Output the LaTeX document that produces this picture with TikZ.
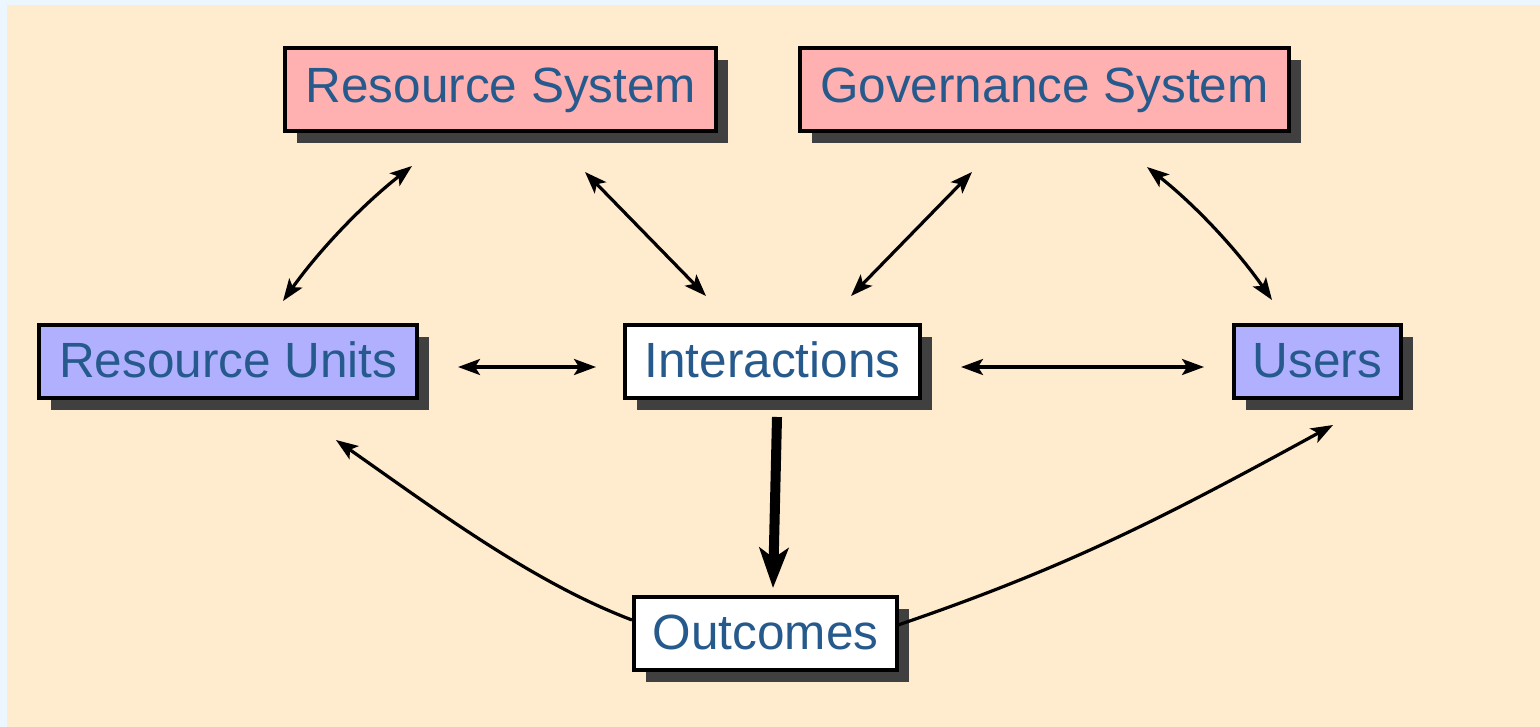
\documentclass[tikz,border=0pt]{standalone}
\usepackage{fontspec}
\setmainfont{Liberation Sans}
\usetikzlibrary{arrows.meta,shadows}
\definecolor{bg}{RGB}{255,235,205}
\definecolor{edgeblue}{RGB}{236,246,255}
\definecolor{pinkfill}{RGB}{255,176,176}
\definecolor{bluefill}{RGB}{176,176,255}
\definecolor{shade}{RGB}{64,64,64}
\definecolor{txt}{RGB}{38,90,140}
\begin{document}
\begin{tikzpicture}[x=0.5pt,y=-0.5pt,
 box/.style={draw=black, line width=2pt, inner sep=0pt,
   font=\fontsize{24.75}{30}\selectfont, text=txt, text height=17.7pt,
   drop shadow={shadow xshift=6pt, shadow yshift=-6pt, fill=shade, opacity=1}},
 topbox/.style={box, fill=pinkfill, minimum height=41.8pt, text depth=4.5pt},
 midbox/.style={box, minimum height=36.3pt, text depth=1.5pt},
 tipthin/.tip={Stealth[length=11pt,width=8pt,inset=2.5pt]},
 link/.style={line width=1.6pt, tipthin-tipthin},
 flow/.style={line width=1.6pt, -tipthin},
 mainflow/.style={line width=5pt, -{Stealth[length=20pt,width=14.5pt,inset=5pt]}}]
\useasboundingbox (0,0) rectangle (1540,727);
\fill[edgeblue] (0,0) rectangle (1540,727);
\fill[bg] (7,5) rectangle (1540,727);

\node[topbox, minimum width=215.5pt] (RS) at (500.8,89.5) {Resource System};
\node[topbox, minimum width=244.6pt] (GS) at (1044.4,89.5) {Governance System};
\node[midbox, fill=bluefill, minimum width=188.8pt] (RU) at (228.2,361.7) {Resource Units};
\node[midbox, fill=white, minimum width=147.2pt] (IN) at (772.5,361.7) {Interactions};
\node[midbox, fill=bluefill, minimum width=83.5pt] (US) at (1317.2,361.7) {Users};
\node[midbox, fill=white, minimum width=131.8pt] (OU) at (765.5,633.3) {Outcomes};

\coordinate (rsL) at (412,166);
\coordinate (ruT) at (283,301);
\coordinate (rsR) at (585,172);
\coordinate (inL) at (706,296);
\coordinate (gsL) at (972,172);
\coordinate (inR) at (851,296);
\coordinate (gsR) at (1147,167);
\coordinate (usT) at (1272,300);
\coordinate (ruE) at (458,367);
\coordinate (inW) at (596,367);
\coordinate (inE) at (961,367);
\coordinate (usW) at (1204,367);
\coordinate (inB) at (777,417);
\coordinate (ouT) at (773,588);
\coordinate (ouW) at (632,620);
\coordinate (ruB) at (336,440);
\coordinate (ouE) at (898,625);
\coordinate (usB) at (1333,425);

\draw[link] (ruT) .. controls (319.5,249.8) and (362.5,204.8) .. (rsL);
\draw[link] (rsR) -- (inL);
\draw[link] (gsL) -- (inR);
\draw[link] (usT) .. controls (1236.8,249.5) and (1195.2,205.1) .. (gsR);
\draw[link] (ruE) -- (inW);
\draw[link] (inE) -- (usW);
\draw[mainflow] (inB) -- (ouT);
\draw[flow] (ouW) .. controls (532,582) and (436,510) .. (ruB);
\draw[flow] (ouE) .. controls (1068,567) and (1163,518) .. (usB);
\end{tikzpicture}
\end{document}
